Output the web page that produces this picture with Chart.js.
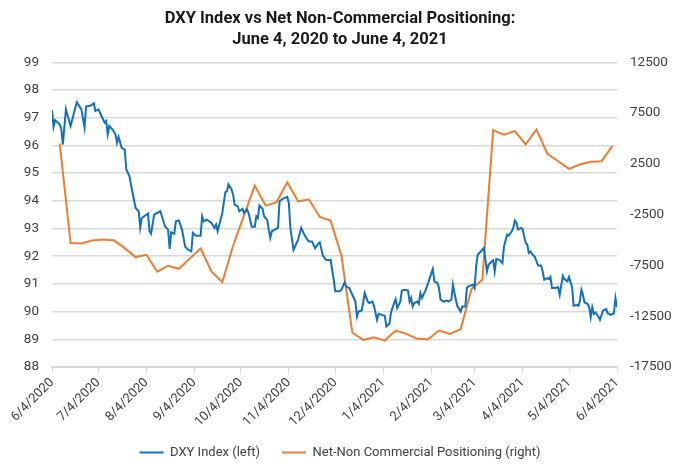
<!DOCTYPE html>
<html>
<head>
<meta charset="utf-8">
<script src="https://cdn.jsdelivr.net/npm/chart.js@4.4.0/dist/chart.umd.min.js"></script>
<style>
  html, body { margin: 0; padding: 0; background: #ffffff; }
  #wrap { width: 680px; height: 471px; position: relative; }
</style>
</head>
<body>
<div id="wrap"><canvas id="c"></canvas></div>
<script>
// Start date of the horizontal axis: 6/4/2020 (day 0). Positions are days since that date.
const startDate = new Date(2020, 5, 4);

// Month tick labels on the horizontal axis
const tickLabels = ["6/4/2020","7/4/2020","8/4/2020","9/4/2020","10/4/2020","11/4/2020","12/4/2020",
                    "1/4/2021","2/4/2021","3/4/2021","4/4/2021","5/4/2021","6/4/2021"];

// DXY Index (left axis): day offsets from 6/4/2020 and index values
const dxyDays = [0,1,2,5,6,7,9,12,16,19,21,22,25,27,28,30,32,34,35,36,37,39,41,42,43,45,47,48,50,52,54,56,57,58,
  62,63,64,66,70,72,73,75,76,77,79,80,82,84,86,88,90,91,93,96,97,98,100,103,105,106,107,110,112,113,114,116,117,118,
  120,121,123,124,126,127,129,131,132,133,134,136,137,139,140,141,142,144,146,147,149,152,153,154,156,157,159,161,
  163,165,166,168,170,172,173,175,177,179,180,182,183,186,187,189,190,192,193,195,196,197,198,200,201,202,204,205,
  207,208,210,211,213,215,216,218,219,221,222,223,225,226,228,230,231,232,233,234,236,237,238,239,241,243,244,246,
  247,249,250,251,253,255,256,258,259,260,261,262,264,265,267,268,269,272,273,274,275,277,279,280,281,282,284,285,
  286,287,289,291,292,294,295,297,298,299,300,301,303,304,306,307,308,309,310,312,314,316,317,318,320,321,322,323,
  325,327,328,330,331,333,334,336,337,339,340,341,342,343,344,346,347,348,349,350,351,353,354,356,358,359,361,363,
  364,365];
const dxyValues = [97.27,96.67,96.91,96.76,96.60,96.03,97.30,96.70,97.56,97.30,96.64,97.40,97.44,97.52,97.24,97.30,
  97.06,96.82,96.88,96.40,96.70,96.58,96.40,96.09,96.30,95.91,95.85,95.13,94.89,94.30,93.74,93.62,93.02,93.38,
  93.54,92.90,92.81,93.50,93.62,93.26,93.08,92.96,92.26,92.86,92.81,93.26,93.29,92.96,92.35,92.23,92.17,92.84,
  92.74,92.74,93.44,93.26,93.32,93.20,93.02,93.14,92.90,93.56,94.31,94.34,94.59,94.41,94.22,93.86,
  93.80,93.62,93.71,93.56,93.68,93.56,93.06,93.06,93.44,93.38,93.83,93.71,93.44,93.32,92.96,92.66,92.90,92.96,
  93.02,93.98,94.07,94.14,93.92,93.02,92.23,92.35,92.60,93.02,
  92.78,92.60,92.53,92.53,92.29,92.45,92.50,92.02,91.87,91.85,91.87,91.15,90.73,90.73,90.79,91.05,90.91,90.85,
  90.73,90.49,90.36,89.82,90.00,90.04,90.31,90.67,90.36,90.31,
  90.36,90.21,89.70,89.92,89.88,89.85,89.46,89.56,89.97,90.31,90.45,90.13,90.36,90.76,90.79,90.76,90.36,90.49,
  90.18,90.31,90.36,90.28,90.67,90.49,90.73,91.03,91.21,91.54,
  91.09,91.03,90.85,90.43,90.36,90.40,90.36,90.43,90.97,90.67,90.40,90.18,90.00,90.18,90.18,90.85,90.91,90.97,
  90.85,91.63,92.05,92.17,92.30,91.87,91.45,91.69,91.81,91.85,
  91.45,91.90,91.87,91.75,92.35,92.78,92.74,92.90,93.02,93.29,93.22,92.96,93.02,92.98,92.48,92.42,92.12,92.17,
  92.09,91.97,91.66,91.66,91.45,91.15,91.21,91.17,91.25,90.85,
  90.85,90.88,90.61,91.29,91.17,91.09,91.25,90.88,90.21,90.24,90.21,90.36,90.79,90.61,90.33,90.28,90.16,89.80,
  90.16,89.92,89.97,89.82,89.70,90.04,90.09,89.94,89.88,89.94,
  90.49,90.16];

// Net non-commercial positioning (right axis): weekly report dates and values
const cotDates = ["2020-06-09","2020-06-16","2020-06-23","2020-06-30","2020-07-07","2020-07-14","2020-07-21","2020-07-28",
  "2020-08-04","2020-08-11","2020-08-18","2020-08-25","2020-09-01","2020-09-08","2020-09-15","2020-09-22","2020-09-29",
  "2020-10-06","2020-10-13","2020-10-20","2020-10-27","2020-11-03","2020-11-10","2020-11-17","2020-11-24","2020-12-01",
  "2020-12-08","2020-12-15","2020-12-22","2020-12-29","2021-01-05","2021-01-12","2021-01-19","2021-01-26","2021-02-02",
  "2021-02-09","2021-02-16","2021-02-23","2021-03-02","2021-03-09","2021-03-16","2021-03-23","2021-03-30","2021-04-06",
  "2021-04-13","2021-04-20","2021-04-27","2021-05-04","2021-05-11","2021-05-18","2021-05-25","2021-06-01"];
const cotValues = [4500,-5300,-5350,-5050,-4950,-5030,-5800,-6680,
  -6450,-8120,-7530,-7830,-6830,-5830,-8090,-9150,-5560,
  -2600,360,-1610,-1290,690,-1190,-1020,-2730,-3090,
  -6550,-14100,-14830,-14570,-14900,-13910,-14240,-14730,-14770,
  -13910,-14240,-13780,-9830,-8910,5820,5360,5720,4410,
  5890,3490,2750,2010,2430,2700,2760,4240];

// Axis ranges
const leftMin = 88, leftMax = 99, leftStep = 1;
const rightMin = -17500, rightMax = 12500, rightStep = 5000;

function dayOfLabel(lbl) {
  const p = lbl.split("/");
  const d = new Date(+p[2], +p[0] - 1, +p[1]);
  return Math.round((d - startDate) / 86400000);
}
function dayOfIso(iso) {
  const p = iso.split("-");
  const d = new Date(+p[0], +p[1] - 1, +p[2]);
  return Math.round((d - startDate) / 86400000);
}
const tickDays = tickLabels.map(dayOfLabel);

const dxyData = dxyDays.map((d, i) => ({ x: d, y: dxyValues[i] }));
const cotData = cotDates.map((d, i) => ({ x: dayOfIso(d), y: cotValues[i] }));

const tickColor = '#404040';
const gridColor = '#d9d9d9';
const fontFamily = 'Roboto, "Liberation Sans", sans-serif';

new Chart(document.getElementById('c'), {
  type: 'line',
  data: {
    datasets: [
      {
        label: 'DXY Index (left)',
        data: dxyData,
        borderColor: '#1170c0',
        backgroundColor: '#1170c0',
        borderWidth: 2,
        pointRadius: 0,
        tension: 0,
        yAxisID: 'y'
      },
      {
        label: 'Net-Non Commercial Positioning (right)',
        data: cotData,
        borderColor: '#ed7d31',
        backgroundColor: '#ed7d31',
        borderWidth: 2,
        pointRadius: 0,
        tension: 0,
        yAxisID: 'y2'
      }
    ]
  },
  options: {
    responsive: true,
    maintainAspectRatio: false,
    animation: false,
    layout: { padding: { left: 0, right: 0, top: 5, bottom: 2 } },
    plugins: {
      title: {
        display: true,
        text: ['DXY Index vs Net Non-Commercial Positioning:', 'June 4, 2020 to June 4, 2021'],
        color: '#1a1a1a',
        font: { family: fontFamily, size: 16.5, weight: 'bold', lineHeight: 1.25 },
        padding: { top: 4, bottom: 12 }
      },
      legend: {
        position: 'bottom',
        labels: {
          color: tickColor,
          font: { family: fontFamily, size: 13 },
          usePointStyle: true,
          pointStyle: 'line',
          pointStyleWidth: 24,
          padding: 22
        }
      },
      tooltip: { enabled: false }
    },
    scales: {
      x: {
        type: 'linear',
        min: 0,
        max: 365,
        afterBuildTicks: (scale) => { scale.ticks = tickDays.map(v => ({ value: v })); },
        afterFit: (scale) => { scale.height = 57; },
        ticks: {
          autoSkip: false,
          minRotation: 45,
          maxRotation: 45,
          color: tickColor,
          font: { family: fontFamily, size: 13 },
          padding: 2,
          callback: (v) => { const i = tickDays.indexOf(v); return i >= 0 ? tickLabels[i] : ''; }
        },
        grid: { display: true, drawOnChartArea: false, drawTicks: true, tickLength: 6, color: gridColor, lineWidth: 1 },
        border: { display: true, color: gridColor, width: 2 }
      },
      y: {
        position: 'left',
        min: leftMin,
        max: leftMax,
        afterFit: (scale) => { scale.width = 52; },
        ticks: { stepSize: leftStep, color: tickColor, font: { family: fontFamily, size: 13.5 }, padding: 13 },
        grid: { color: gridColor, lineWidth: 1.5, drawTicks: false },
        border: { display: false }
      },
      y2: {
        position: 'right',
        min: rightMin,
        max: rightMax,
        afterFit: (scale) => { scale.width = 63; },
        ticks: { stepSize: rightStep, color: tickColor, font: { family: fontFamily, size: 13.5 }, padding: 13,
                 callback: (v) => String(v) },
        grid: { drawOnChartArea: false, drawTicks: false },
        border: { display: false }
      }
    }
  }
});
</script>
</body>
</html>
